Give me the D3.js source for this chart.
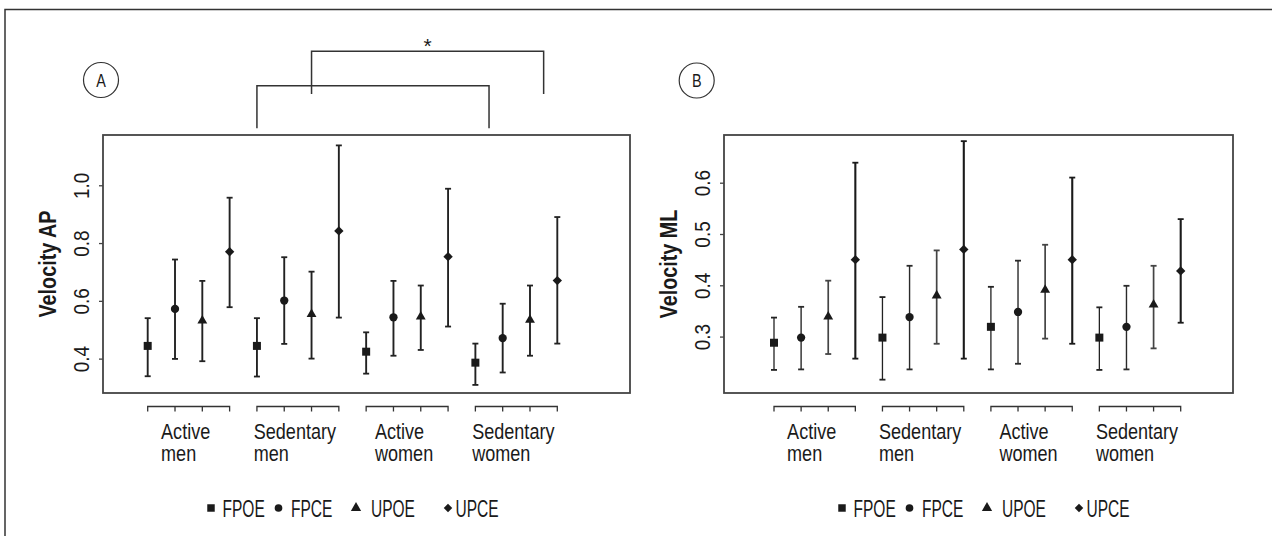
<!DOCTYPE html>
<html><head><meta charset="utf-8">
<script src="https://cdn.jsdelivr.net/npm/d3@7"></script>
<style>
body{margin:0;background:#fff;}
svg text{font-family:"Liberation Sans",Arial,Helvetica,sans-serif;fill:#1a1a1a;}
</style></head><body>
<svg id="chart" width="1272" height="536"></svg>
<script>
// ---------- data ----------
const groups = [["Active","men"],["Sedentary","men"],["Active","women"],["Sedentary","women"]];
const measures = ["FPOE","FPCE","UPOE","UPCE"];

// Panel A – Velocity AP (rows = groups, columns = measures)
const apMean = [[0.444,0.572,0.531,0.770],[0.444,0.601,0.554,0.842],[0.424,0.543,0.545,0.753],[0.386,0.471,0.534,0.670]];
const apLow  = [[0.339,0.399,0.391,0.578],[0.338,0.451,0.400,0.542],[0.348,0.410,0.430,0.511],[0.309,0.352,0.410,0.452]];
const apHigh = [[0.540,0.743,0.669,0.957],[0.540,0.751,0.701,1.138],[0.491,0.669,0.653,0.988],[0.452,0.590,0.653,0.890]];
const apTicks = [0.4,0.6,0.8,1.0];

// Panel B – Velocity ML
const mlMean = [[0.288,0.298,0.339,0.450],[0.298,0.338,0.380,0.470],[0.319,0.348,0.391,0.450],[0.298,0.319,0.362,0.428]];
const mlLow  = [[0.235,0.236,0.266,0.257],[0.216,0.236,0.286,0.257],[0.236,0.247,0.296,0.286],[0.235,0.236,0.277,0.327]];
const mlHigh = [[0.337,0.358,0.409,0.639],[0.377,0.438,0.468,0.681],[0.397,0.448,0.479,0.610],[0.357,0.399,0.438,0.529]];
const mlTicks = [0.3,0.4,0.5,0.6];

// significance brackets on panel A (x in point index units, 1..16)
const sigFrom = [5, 7];
const sigTo   = [13.5, 15.5];
const sigText = ["", "*"];

// ---------- drawing ----------
const svg = d3.select("#chart");
const ink = "#1a1a1a";

// horizontally condense text (narrow typeface look)
function squeeze(sel, k){
  sel.each(function(){
    const L = this.getComputedTextLength();
    d3.select(this).attr("textLength", L*k).attr("lengthAdjust","spacingAndGlyphs");
  });
}

// outer frame (top + left visible)
svg.append("path").attr("d","M5,536V9.5H1272").attr("fill","none").attr("stroke","#333").attr("stroke-width",1.5);

const symbols = [d3.symbolSquare, d3.symbolCircle, d3.symbolTriangle, d3.symbolSquare];
const symRot  = [0, 0, 0, 45];
const symSize = [64, 54, 42, 44];
const legSize = [56, 46, 46, 36];

function panel(cfg){
  const g = svg.append("g");
  const keys = [];
  groups.forEach((gr,gi)=>measures.forEach((m,mi)=>keys.push(gi+"-"+mi)));
  const x = d3.scalePoint().domain(keys).range(cfg.xRange);
  const xi = d3.scaleLinear().domain([1,16]).range(cfg.xRange);
  const y = d3.scaleLinear().domain(cfg.yDomain).range([cfg.box[3], cfg.box[1]]);

  // plot box
  g.append("rect").attr("x",cfg.box[0]).attr("y",cfg.box[1])
    .attr("width",cfg.box[2]-cfg.box[0]).attr("height",cfg.box[3]-cfg.box[1])
    .attr("fill","none").attr("stroke","#444").attr("stroke-width",1.8);

  // y axis
  const ya = g.append("g").attr("transform",`translate(${cfg.box[0]},0)`)
    .call(d3.axisLeft(y).tickValues(cfg.ticks).tickSize(4).tickFormat(d3.format(".1f")));
  ya.select(".domain").remove();
  ya.selectAll(".tick line").attr("stroke","#444").attr("stroke-width",1.3);
  const tt = ya.selectAll(".tick text").attr("x",null).attr("dy",null)
    .attr("transform","translate(-14,0) rotate(-90)")
    .attr("text-anchor","middle").attr("font-size",22).attr("fill","#1a1a1a")
    .style("font-family",'"Liberation Sans",Arial,sans-serif');
  squeeze(tt, 0.86);

  // y title
  const ttl = g.append("text").attr("transform",`translate(${cfg.box[0]-47},${(cfg.box[1]+cfg.box[3])/2}) rotate(-90)`)
    .attr("text-anchor","middle").attr("font-size",23).attr("font-weight","bold").text(cfg.title);
  squeeze(ttl, 0.86);

  // error bars + markers
  const pts = [];
  groups.forEach((gr,gi)=>measures.forEach((m,mi)=>pts.push({k:gi+"-"+mi, mi, mean:cfg.mean[gi][mi], lo:cfg.low[gi][mi], hi:cfg.high[gi][mi]})));
  const eb = g.append("g").selectAll("g").data(pts).join("g");
  eb.append("line").attr("x1",d=>x(d.k)).attr("x2",d=>x(d.k)).attr("y1",d=>y(d.lo)).attr("y2",d=>y(d.hi))
    .attr("stroke",d=>cfg.barColor[d.mi]).attr("stroke-width",d=>cfg.barWidth[d.mi]);
  ["lo","hi"].forEach(e=>{
    eb.append("line").attr("x1",d=>x(d.k)-3).attr("x2",d=>x(d.k)+3).attr("y1",d=>y(d[e])).attr("y2",d=>y(d[e]))
      .attr("stroke",d=>cfg.barColor[d.mi]).attr("stroke-width",1.8);
  });
  eb.append("path").attr("d",d=>d3.symbol(symbols[d.mi],symSize[d.mi])())
    .attr("transform",d=>`translate(${x(d.k)},${y(d.mean)}) rotate(${symRot[d.mi]})`).attr("fill",ink);

  // group brackets below the box + labels
  groups.forEach((gr,gi)=>{
    const xs = measures.map((m,mi)=>x(gi+"-"+mi));
    const by = cfg.box[3]+13.5;
    g.append("path").attr("d",`M${xs[0]},${by+5}V${by}H${xs[3]}V${by+5}` + xs.slice(1,3).map(v=>`M${v},${by}V${by+5}`).join(""))
      .attr("fill","none").attr("stroke","#333").attr("stroke-width",1.3);
    const cx = (xs[0]+xs[3])/2 - 3;
    const t = g.append("text").attr("font-size",22);
    gr.forEach((line,li)=>t.append("tspan").attr("x",cx).attr("y",by+32+li*22).text(line));
    const ts = t.selectAll("tspan");
    squeeze(ts, 0.82);
    const w = d3.max(ts.nodes(), n=>+n.getAttribute("textLength"));
    ts.attr("x",cx-w/2);
  });

  // legend
  const legX = cfg.legendX, legY = 508;
  const markOff = [4, 71.5, 149, 241];
  const textOff = [15.5, 84, 164, 248.5];
  measures.forEach((m,mi)=>{
    g.append("path").attr("d",d3.symbol(symbols[mi],legSize[mi])())
      .attr("transform",`translate(${legX+markOff[mi]},${legY}) rotate(${symRot[mi]})`).attr("fill",ink);
    const lt = g.append("text").attr("x",legX+textOff[mi]).attr("y",legY+8.5).attr("font-size",23.5).text(m);
    squeeze(lt, 0.66);
  });

  // panel label
  g.append("circle").attr("cx",cfg.label[0]).attr("cy",cfg.label[1]).attr("r",17.5)
    .attr("fill","none").attr("stroke","#333").attr("stroke-width",1.2);
  const pl = g.append("text").attr("x",cfg.label[0]).attr("y",cfg.label[1]+6.5).attr("text-anchor","middle")
    .attr("font-size",18).text(cfg.letter);
  squeeze(pl, 0.8);

  return {g, xi};
}

const A = panel({box:[103,135,630,393], xRange:[147.7,557.3], yDomain:[0.281,1.174], ticks:apTicks,
  mean:apMean, low:apLow, high:apHigh, title:"Velocity AP", legendX:207, label:[101,80], letter:"A",
  barColor:["#222","#222","#222","#222"], barWidth:[1.9,1.9,1.9,1.9]});
const B = panel({box:[724,135,1233,393], xRange:[774,1180.7], yDomain:[0.190,0.693], ticks:mlTicks,
  mean:mlMean, low:mlLow, high:mlHigh, title:"Velocity ML", legendX:838, label:[696.7,80.5], letter:"B",
  barColor:["#222","#2a2a2a","#444","#1a1a1a"], barWidth:[1.3,1.4,1.7,2.1]});

// significance brackets on A
const levelY = [85.7, 51.3];
const legBottom = [128.3, 94];
sigFrom.forEach((f,i)=>{
  const x0 = A.xi(f), x1 = A.xi(sigTo[i]);
  A.g.append("path").attr("d",`M${x0},${legBottom[i]}V${levelY[i]}H${x1}V${legBottom[i]}`)
    .attr("fill","none").attr("stroke","#333").attr("stroke-width",1.5);
  if(sigText[i]) A.g.append("text").attr("x",(x0+x1)/2).attr("y",levelY[i]+2).attr("text-anchor","middle")
    .attr("font-size",21).text(sigText[i]);
});
</script>
</body></html>
